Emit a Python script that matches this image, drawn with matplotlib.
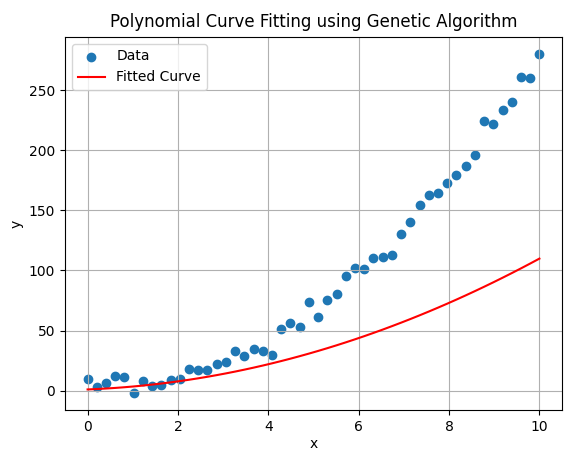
import numpy as np
import matplotlib
matplotlib.use("Agg")
import matplotlib.pyplot as plt

x_data = np.linspace(0, 10, 50)
y_data = [10, 3, 6, 12, 11, -2, 8, 4, 5, 9,
          10, 18, 17, 17, 22, 24, 33, 29, 35, 33,
          30, 51, 56, 53, 74, 61, 75, 80, 95, 102,
          101, 110, 111, 113, 130, 140, 154, 163, 164, 173,
          179, 187, 196, 224, 222, 233, 240, 261, 260, 280]
# fitted polynomial coefficients (a*x^2 + b*x + c)
coeffs = [0.94, 1.48, 1.0]

fig = plt.figure(figsize=(5.64, 4.51), dpi=100)
ax = fig.add_axes([65/564, 41/451, (562-65)/564, (410-37)/451])
ax.scatter(x_data, y_data, label="Data")
ax.plot(x_data, np.polyval(coeffs, x_data), color="red", label="Fitted Curve")
ax.set_xlabel("x", labelpad=2.5)
ax.set_ylabel("y")
ax.set_title("Polynomial Curve Fitting using Genetic Algorithm", pad=7)
ax.legend(loc="upper left")
ax.grid(True)
fig.savefig("out.png", dpi=100)
